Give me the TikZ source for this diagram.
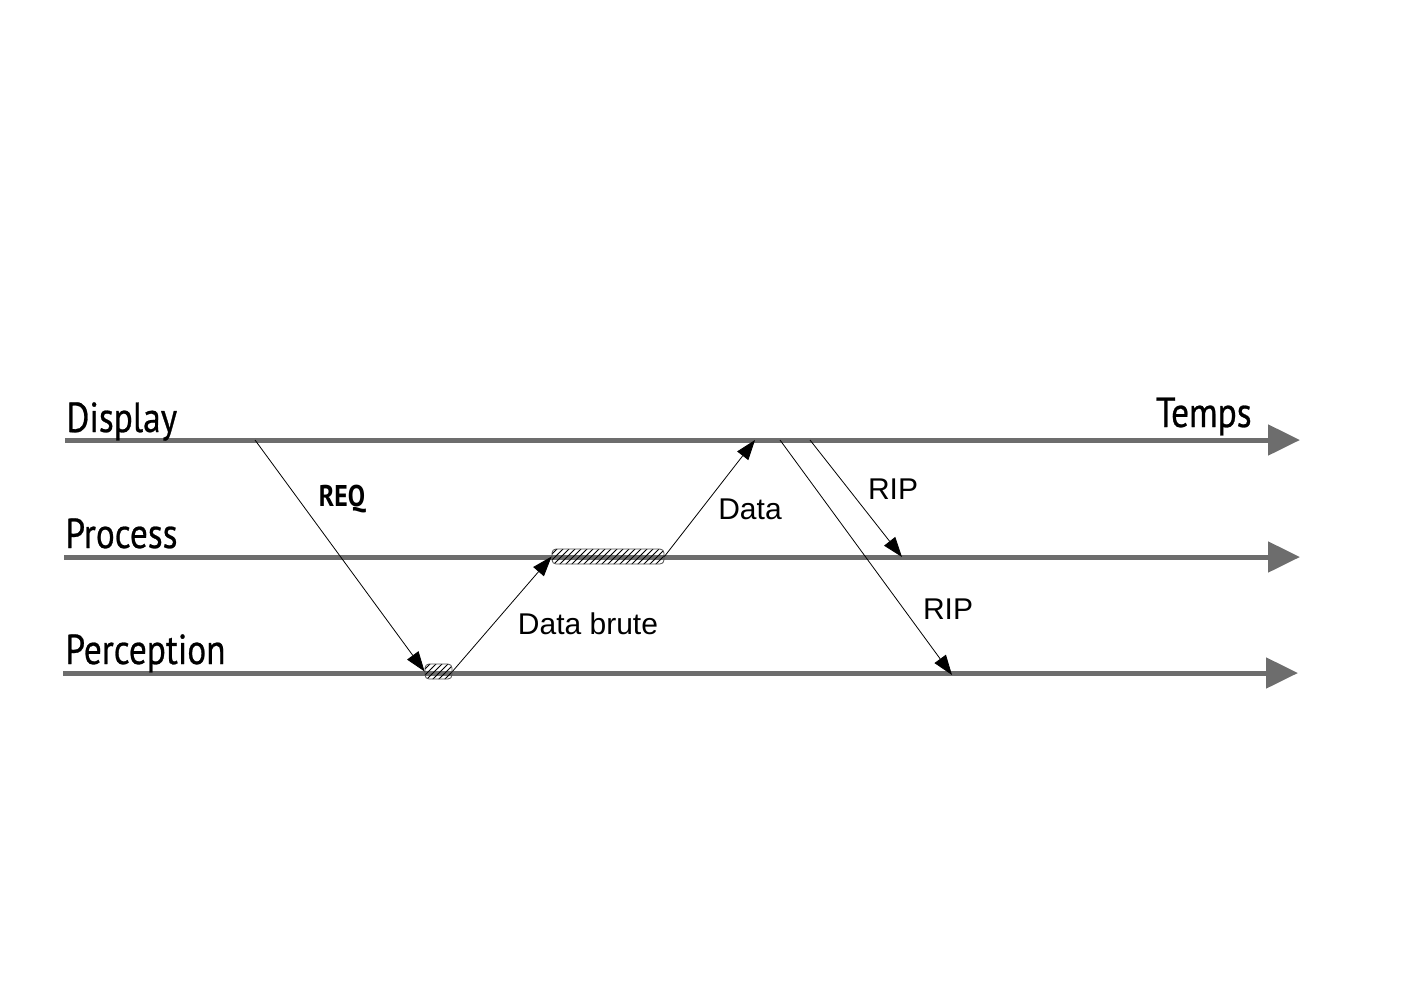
\documentclass[tikz,border=0pt]{standalone}
\usepackage{fontspec}
\setmainfont{Liberation Sans}
\newfontfamily\lanefont[FakeStretch=0.84,FakeBold=0.6]{PT Sans}
\newfontfamily\reqfont[FakeStretch=0.86]{PT Sans Bold}
\usetikzlibrary{arrows.meta,patterns}
\definecolor{linegray}{RGB}{109,109,109}

\begin{document}
\begin{tikzpicture}[x=0.5pt, y=-0.5pt,
    timeline/.style={line width=2.5pt, draw=linegray, -{Triangle[length=16pt,width=15pt]}},
    msg/.style={line width=0.4pt, -{Triangle[length=10pt,width=7pt]}},
    busy/.style={draw=black!70, rounded corners=2pt, pattern=north east lines, line width=0.4pt, inner sep=0pt},
    lbl/.style={font=\fontsize{15}{17}\selectfont},
    lane/.style={font=\lanefont\fontsize{21}{24}\selectfont, inner sep=0pt}]
\useasboundingbox (0,0) rectangle (1403,992);

% time lines
\draw[timeline](65,440)--(1300,440);
\draw[timeline](64,557)--(1300,557);
\draw[timeline](63,673)--(1298,673);

\node[lane, anchor=base west] (display) at (66,432){Display};
\node[lane, anchor=base west] (process) at (65,548){Process};
\node[lane, anchor=base west] (perception) at (65,664){Perception};
\node[lane, anchor=base east] (temps) at (1252,427){Temps};

% busy periods
\node[busy, minimum width=13.5pt, minimum height=7.5pt] (raw) at (438.5,671.5){};
\node[busy, minimum width=56pt, minimum height=7.5pt] (proc) at (608,556.5){};

\coordinate (reqstart) at (255,440);
\coordinate (dataend) at (755,440);
\coordinate (ripastart) at (810,440);
\coordinate (ripaend) at (902,557);
\coordinate (ripbstart) at (780,440);
\coordinate (ripbend) at (952,675);

% messages
\draw[msg](reqstart)--(raw.west);
\draw[msg](raw.east)--(proc.west);
\draw[msg](proc.east)--(dataend);
\draw[msg](ripastart)--(ripaend);
\draw[msg](ripbstart)--(ripbend);

\node[font=\reqfont\fontsize{15}{17}\selectfont] (req) at (342,499){REQ};
\node[lbl] (brute) at (588,624){Data brute};
\node[lbl] (data) at (750,509){Data};
\node[lbl] (ripa) at (893,489){RIP};
\node[lbl] (ripb) at (948,609){RIP};

\end{tikzpicture}
\end{document}
